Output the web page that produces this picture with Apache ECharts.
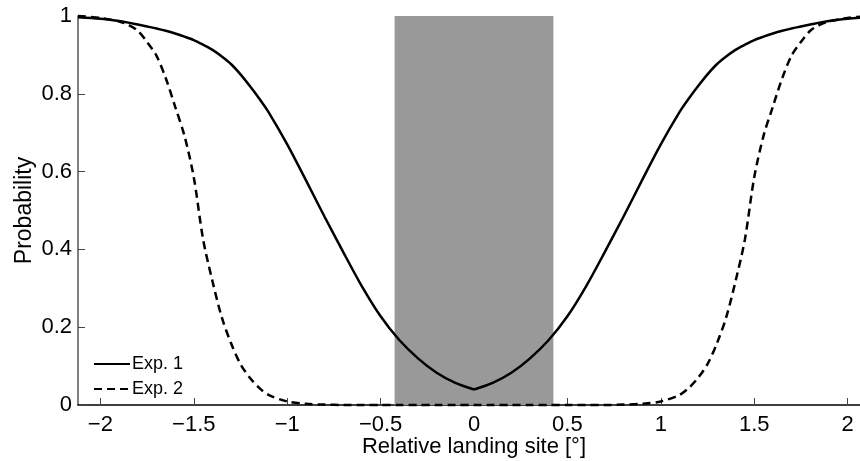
<!DOCTYPE html>
<html>
<head>
<meta charset="utf-8">
<script src="https://cdn.jsdelivr.net/npm/echarts@6/dist/echarts.min.js"></script>
<style>html,body{margin:0;padding:0;background:#fff;}#c{width:860px;height:461px;}</style>
</head>
<body>
<div id="c"></div>
<script>
var xs = [-2.12,-2.0,-1.9,-1.85,-1.8,-1.75,-1.7,-1.65,-1.6,-1.55,-1.5,-1.45,-1.4,-1.35,-1.3,-1.25,-1.2,-1.15,-1.1,-1.0,-0.9,-0.8,-0.7,-0.6,-0.5,-0.4,-0.3,-0.2,-0.1,0,
          0.1,0.2,0.3,0.4,0.5,0.6,0.7,0.8,0.9,1.0,1.1,1.15,1.2,1.25,1.3,1.35,1.4,1.45,1.5,1.55,1.6,1.65,1.7,1.75,1.8,1.85,1.9,2.0,2.12];
var exp1 = [0.997,0.993,0.987,0.983,0.978,0.973,0.968,0.962,0.955,0.947,0.938,0.926,0.913,0.896,0.876,0.85,0.82,0.788,0.753,0.67,0.578,0.484,0.393,0.305,0.228,0.167,0.12,0.083,0.057,0.04,
            0.057,0.083,0.12,0.167,0.228,0.305,0.393,0.484,0.578,0.67,0.753,0.788,0.82,0.85,0.876,0.896,0.913,0.926,0.938,0.947,0.955,0.962,0.968,0.973,0.978,0.983,0.987,0.993,0.997];
var exp2 = [1.0,0.995,0.986,0.977,0.962,0.933,0.898,0.84,0.767,0.692,0.585,0.425,0.318,0.225,0.158,0.105,0.07,0.044,0.026,0.009,0.003,0.001,0,0,0,0,0,0,0,0,
            0,0,0,0,0,0,0,0.001,0.003,0.009,0.026,0.044,0.07,0.105,0.158,0.225,0.318,0.425,0.585,0.692,0.767,0.84,0.898,0.933,0.962,0.977,0.986,0.995,1.0];
var xTicks = [-2,-1.5,-1,-0.5,0,0.5,1,1.5,2];
var shadeRange = [-0.425, 0.425];
var shadeTop = [1, 1];
var seriesNames = ['Exp. 1', 'Exp. 2'];
var xName = 'Relative landing site [°]';
var yName = 'Probability';

function pairs(x, y){ return x.map(function(v,i){ return [v, y[i]]; }); }
var mid = xs.indexOf(0);
var FONT = 'Liberation Sans, Arial, Helvetica, sans-serif';
var solidStyle = { color: '#000', width: 2.5 };
var chart = echarts.init(document.getElementById('c'));
chart.setOption({
  animation: false,
  grid: { left: 78, top: 16, bottom: 56, right: -10, outerBoundsMode: 'none', containLabel: false },
  legend: {
    orient: 'vertical', left: 88, top: 350, itemWidth: 36, itemHeight: 14, itemGap: 7,
    itemStyle: { color: 'rgba(0,0,0,0)', borderWidth: 0 },
    textStyle: { fontFamily: FONT, fontSize: 18, color: '#000', padding: [0,0,0,-3] },
    data: seriesNames
  },
  xAxis: {
    type: 'value', min: -2.12, max: 2.12,
    name: xName, nameLocation: 'middle', nameGap: 31, nameMoveOverlap: false,
    nameTextStyle: { fontFamily: FONT, fontSize: 22, color: '#000' },
    axisLine: { show: true, onZero: false, lineStyle: { color: '#000', width: 1.5 } },
    axisTick: { show: true, inside: true, length: 7, customValues: xTicks, lineStyle: { color: '#444', width: 1 } },
    axisLabel: { customValues: xTicks, fontFamily: FONT, fontSize: 22, color: '#000', margin: 9,
      formatter: function(v){ return String(v).replace('-', '\u2212'); } },
    splitLine: { show: false }
  },
  yAxis: {
    type: 'value', min: 0, max: 1, interval: 0.2,
    name: yName, nameLocation: 'middle', nameGap: 42, nameMoveOverlap: false,
    nameTextStyle: { fontFamily: FONT, fontSize: 23, color: '#000' },
    axisLine: { show: true, onZero: false, lineStyle: { color: '#555', width: 1.5 } },
    axisTick: { show: true, inside: true, length: 7, lineStyle: { color: '#444', width: 1 } },
    axisLabel: { fontFamily: FONT, fontSize: 22, color: '#000', margin: 6 },
    splitLine: { show: false }
  },
  series: [
    { type: 'line', name: 'shade', data: pairs(shadeRange, shadeTop), z: 1, silent: true, symbol: 'none',
      lineStyle: { width: 0 }, areaStyle: { color: '#999999', opacity: 1 } },
    { type: 'line', name: seriesNames[0], data: pairs(xs, exp1).slice(0, mid + 1), symbol: 'none', clip: false, z: 3,
      smooth: 0.3, lineStyle: solidStyle, itemStyle: { color: '#000' } },
    { type: 'line', name: seriesNames[0], data: pairs(xs, exp1).slice(mid), symbol: 'none', clip: false, z: 3,
      smooth: 0.3, lineStyle: solidStyle, itemStyle: { color: '#000' } },
    { type: 'line', name: seriesNames[1], data: pairs(xs, exp2), symbol: 'none', clip: false, z: 3,
      smooth: 0.3, lineStyle: { color: '#000', width: 2.5, type: [8,5] }, itemStyle: { color: '#000' } }
  ]
});
</script>
</body>
</html>
